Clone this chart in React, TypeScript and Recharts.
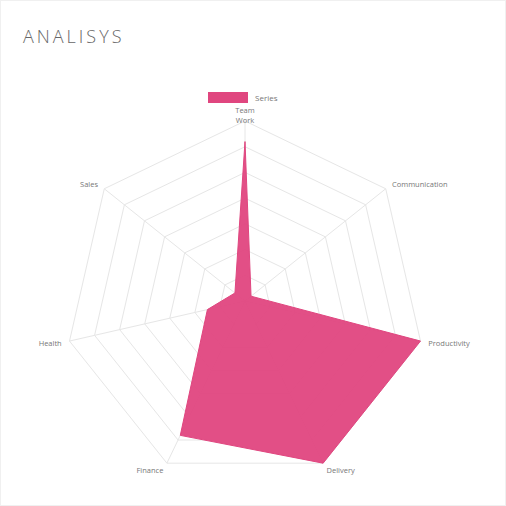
import React from "react";
import {
  RadarChart,
  Radar,
  PolarGrid,
  PolarAngleAxis,
  PolarRadiusAxis,
} from "recharts";

// axes, clockwise from the top
const axes = ["Team\nWork", "Communication", "Productivity", "Delivery", "Finance", "Health", "Sales"];
const seriesValues = [62, 3, 70, 70, 58, 15, 5];
const radiusTicks = [0, 10, 20, 30, 40, 50, 60, 70];
const seriesName = "Series";
const title = "ANALISYS";

const PINK = "#e0467f";

const data = axes.map((a, i) => ({ axis: a, value: seriesValues[i] }));

function AngleTick(props: any) {
  const { x, y, payload, textAnchor } = props;
  const lines = String(payload.value).split("\n");
  // the top label sits just above the outer ring, two lines high
  const dy = lines.length > 1 ? 0 : 3;
  return (
    <text x={x} y={y + dy} textAnchor={textAnchor} fontSize={7.5} fill="#777" fontFamily="Open Sans, sans-serif">
      {lines.map((l, i) => (
        <tspan key={i} x={x} dy={i === 0 ? 0 : 10}>
          {l}
        </tspan>
      ))}
    </text>
  );
}

export default function App() {
  return (
    <div
      style={{
        position: "absolute",
        left: 0,
        top: 0,
        width: 506,
        height: 506,
        background: "#fff",
        boxSizing: "border-box",
        border: "1px solid #f0f0f0",
        fontFamily: "Open Sans, sans-serif",
      }}
    >
      <div
        style={{
          position: "absolute",
          left: 22,
          top: 23,
          fontSize: 18,
          fontWeight: 300,
          color: "#666",
          letterSpacing: 3,
        }}
      >
        {title}
      </div>
      <div style={{ position: "absolute", left: 207, top: 91, display: "flex", alignItems: "center" }}>
        <div style={{ width: 40, height: 11, background: PINK }} />
        <span style={{ marginLeft: 7, fontSize: 8, color: "#777" }}>{seriesName}</span>
      </div>
      <RadarChart width={506} height={506} cx={244} cy={300} outerRadius={180} data={data}>
        <PolarGrid stroke="#e6e6e6" gridType="polygon" />
        <PolarAngleAxis dataKey="axis" tick={<AngleTick />} />
        <PolarRadiusAxis
          angle={90}
          domain={[0, 70]}
          ticks={radiusTicks as any}
          tick={false}
          axisLine={false}
        />
        <Radar
          name={seriesName}
          dataKey="value"
          stroke={PINK}
          fill={PINK}
          fillOpacity={0.95}
          isAnimationActive={false}
        />
      </RadarChart>
    </div>
  );
}
